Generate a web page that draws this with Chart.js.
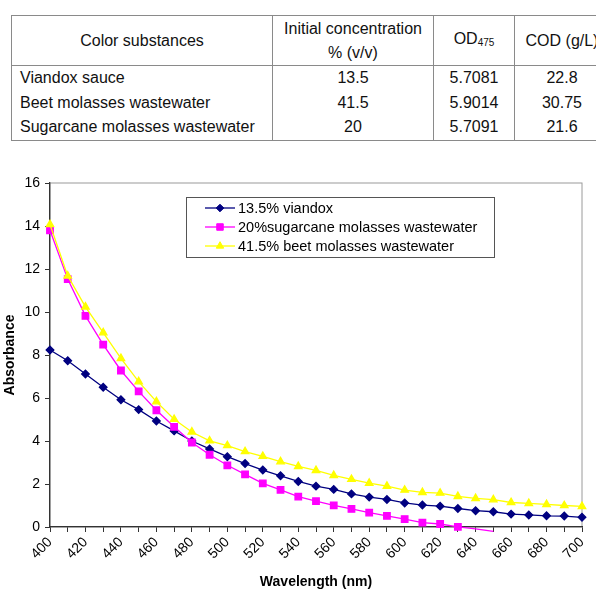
<!DOCTYPE html>
<html>
<head>
<meta charset="utf-8">
<script src="https://cdn.jsdelivr.net/npm/chart.js@4"></script>
<style>
    html, body { margin: 0; padding: 0; width: 596px; height: 598px; overflow: hidden; background: #fff; }
    body { position: relative; font-family: Arial, "Liberation Sans", sans-serif; }
    #info {
        position: absolute; left: 11px; top: 15px;
        border-collapse: collapse; font-size: 16px; color: #111;
        table-layout: fixed; width: 598px;
    }
    #info th, #info td { border-left: 1.5px solid #8a8a8a; border-right: 1.5px solid #8a8a8a; padding: 0 8px; }
    #info th { font-weight: normal; height: 49px; line-height: 24px; border-bottom: 1.5px solid #8a8a8a; border-top: 1.5px solid #8a8a8a; }
    #info td { height: 24.5px; line-height: 24px; text-align: center; }
    #info td:first-child { text-align: left; }
    #info tr:last-child td { border-bottom: 1.5px solid #8a8a8a; }
    #info sub { font-size: 10px; vertical-align: -2px; }
    #chartBox { position: absolute; left: 0; top: 160px; }
</style>
</head>
<body>
<table id="info">
    <colgroup><col style="width:261px"><col style="width:161px"><col style="width:81px"><col style="width:95px"></colgroup>
    <thead>
        <tr><th>Color substances</th><th>Initial concentration<br>% (v/v)</th><th>OD<sub>475</sub></th><th>COD (g/L)</th></tr>
    </thead>
    <tbody id="infoBody"></tbody>
</table>
<div id="chartBox"><canvas id="absChart" width="596" height="438"></canvas></div>
<script>
// Table values
const substances = ['Viandox sauce', 'Beet molasses wastewater', 'Sugarcane molasses wastewater'];
const initialConc = ['13.5', '41.5', '20'];
const od475 = ['5.7081', '5.9014', '5.7091'];
const cod = ['22.8', '30.75', '21.6'];

// Spectrum values (absorbance)
const wavelengths = [400, 410, 420, 430, 440, 450, 460, 470, 480, 490, 500, 510, 520, 530, 540, 550,
    560, 570, 580, 590, 600, 610, 620, 630, 640, 650, 660, 670, 680, 690, 700];
const viandox = [8.23, 7.73, 7.12, 6.50, 5.92, 5.46, 4.93, 4.47, 4.00, 3.63, 3.27, 2.95, 2.65, 2.38, 2.12, 1.90,
    1.75, 1.54, 1.39, 1.28, 1.12, 1.02, 0.97, 0.86, 0.76, 0.71, 0.60, 0.56, 0.52, 0.51, 0.45];
const sugarcane = [13.80, 11.53, 9.82, 8.48, 7.28, 6.31, 5.43, 4.66, 3.93, 3.36, 2.87, 2.45, 2.03, 1.73, 1.41, 1.20,
    1.01, 0.84, 0.67, 0.52, 0.37, 0.20, 0.14, 0.01, -0.09, -0.20, null, null, null, null, null];
const beet = [14.07, 11.68, 10.24, 9.04, 7.84, 6.76, 5.83, 5.01, 4.42, 4.01, 3.79, 3.51, 3.29, 3.04, 2.82, 2.63,
    2.40, 2.22, 2.04, 1.90, 1.72, 1.61, 1.58, 1.42, 1.33, 1.27, 1.14, 1.10, 1.05, 1.00, 0.96];
const seriesNames = ['13.5% viandox', '20%sugarcane molasses wastewater', '41.5% beet molasses wastewater'];

// Fill the table
const infoBody = document.getElementById('infoBody');
substances.forEach((name, i) => {
    const row = document.createElement('tr');
    row.innerHTML = `<td>${name}</td><td>${initialConc[i]}</td><td>${od475[i]}</td><td>${cod[i]}</td>`;
    infoBody.appendChild(row);
});

const FONT = 'Arial, "Liberation Sans", sans-serif';

// light frame round the plot area (axes draw on top of it)
const plotFrame = {
    id: 'plotFrame',
    beforeDraw(chart) {
        const { ctx, chartArea: a } = chart;
        ctx.save();
        ctx.strokeStyle = '#9a9a9a';
        ctx.lineWidth = 1;
        ctx.strokeRect(a.left, a.top, a.right - a.left, a.bottom - a.top);
        ctx.restore();
    }
};

// boxed legend inside the plot, like the spreadsheet one
const boxLegend = {
    id: 'boxLegend',
    afterDraw(chart) {
        const ctx = chart.ctx;
        const box = { x: 186.5, y: 37.5, w: 308, h: 60 };
        ctx.save();
        ctx.fillStyle = '#fff';
        ctx.fillRect(box.x, box.y, box.w, box.h);
        ctx.strokeStyle = '#555';
        ctx.lineWidth = 1;
        ctx.strokeRect(box.x, box.y, box.w, box.h);
        ctx.font = '14.5px ' + FONT;
        ctx.textBaseline = 'middle';
        const rows = [48, 67, 86];
        [0, 1, 2].forEach(i => {
            const ds = chart.data.datasets[i];
            const y = rows[i];
            ctx.strokeStyle = ds.borderColor;
            ctx.lineWidth = ds.borderWidth;
            ctx.beginPath();
            ctx.moveTo(205, y);
            ctx.lineTo(235, y);
            ctx.stroke();
            ctx.fillStyle = ds.pointBackgroundColor;
            ctx.strokeStyle = ds.borderColor;
            ctx.lineWidth = 1;
            Chart.helpers.drawPoint(ctx, { pointStyle: ds.pointStyle, radius: ds.legendRadius, rotation: 0, borderWidth: 1 }, 220, y);
            ctx.fillStyle = '#000';
            ctx.fillText(ds.label, 238, y + 1);
        });
        ctx.restore();
    }
};

const ctx = document.getElementById('absChart').getContext('2d');
const hideBelowAxis = r => (c => (c.raw !== null && c.raw < 0 ? 0 : r));

new Chart(ctx, {
    type: 'line',
    data: {
        labels: wavelengths,
        datasets: [
            {
                label: seriesNames[0], data: viandox,
                borderColor: '#000080', backgroundColor: '#000080', pointBackgroundColor: '#000080',
                borderWidth: 1.3, pointStyle: 'rectRot', pointRadius: 3.8, legendRadius: 3.8,
                tension: 0, order: 3
            },
            {
                label: seriesNames[1], data: sugarcane,
                borderColor: '#ff00ff', backgroundColor: '#ff00ff', pointBackgroundColor: '#ff00ff',
                borderWidth: 1.3, pointStyle: 'rect', pointRadius: hideBelowAxis(4.6), legendRadius: 4.6,
                tension: 0, order: 2, clip: false, spanGaps: false
            },
            {
                label: seriesNames[2], data: beet,
                borderColor: '#ffff00', backgroundColor: '#ffff00', pointBackgroundColor: '#ffff00',
                borderWidth: 1.3, pointStyle: 'triangle', pointRadius: 4.3, legendRadius: 4.3,
                tension: 0, order: 1
            }
        ]
    },
    options: {
        responsive: false,
        animation: false,
        devicePixelRatio: 1,
        layout: { padding: { top: 23, right: 14, left: 0, bottom: 0 } },
        plugins: { legend: { display: false }, tooltip: { enabled: false } },
        elements: { point: { borderWidth: 1, hoverRadius: 4 } },
        scales: {
            x: {
                type: 'category',
                offset: false,
                afterFit: s => { s.height = 71; },
                grid: { drawOnChartArea: false, drawTicks: true, tickLength: 5, color: '#333' },
                border: { color: '#333', width: 1.3 },
                ticks: {
                    autoSkip: false, minRotation: 45, maxRotation: 45, padding: 2,
                    color: '#000', font: { family: FONT, size: 14 },
                    callback: function (val, index) { return index % 2 === 0 ? this.getLabelForValue(val) : ''; }
                },
                title: {
                    display: true, text: 'Wavelength (nm)', color: '#000',
                    font: { family: FONT, size: 14, weight: 'bold' }, padding: { top: 0, bottom: 7 }
                }
            },
            y: {
                min: 0, max: 16,
                afterFit: s => { s.width = 50; },
                grid: { drawOnChartArea: false, drawTicks: true, tickLength: 5, color: '#333' },
                border: { color: '#333', width: 1.3 },
                ticks: { stepSize: 2, padding: 5, color: '#000', font: { family: FONT, size: 14 } },
                title: {
                    display: true, text: 'Absorbance', color: '#000',
                    font: { family: FONT, size: 14, weight: 'bold' }, padding: { top: 2, bottom: 0 }
                }
            }
        }
    },
    plugins: [plotFrame, boxLegend]
});
</script>
</body>
</html>
